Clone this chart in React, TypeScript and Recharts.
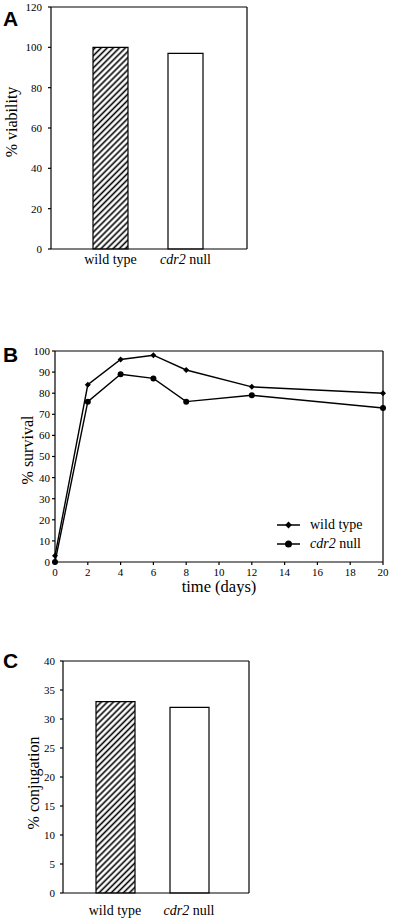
import React from "react";
import { BarChart, Bar, Cell, LineChart, Line, XAxis, YAxis, Legend, Label } from "recharts";

// panel A / C: two genotypes
const genotypes = ["wild type", "cdr2 null"];
const viability = [100, 97];
const conjugation = [33, 32];
const viabilityTicks = [0, 20, 40, 60, 80, 100, 120];
const conjugationTicks = [0, 5, 10, 15, 20, 25, 30, 35, 40];

// panel B: survival over time
const days = [0, 2, 4, 6, 8, 12, 20];
const wildTypeSurvival = [3, 84, 96, 98, 91, 83, 80];
const cdr2Survival = [0, 76, 89, 87, 76, 79, 73];
const survivalTicks = [0, 10, 20, 30, 40, 50, 60, 70, 80, 90, 100];
const dayTicks = [0, 2, 4, 6, 8, 10, 12, 14, 16, 18, 20];
const seriesOrder = ["wt", "cdr2"];

const SERIF = "'Liberation Serif', 'Times New Roman', serif";
const SANS = "'Liberation Sans', Arial, sans-serif";
const ink = "#000";

const viabilityData = genotypes.map((name, i) => ({ name, value: viability[i] }));
const conjugationData = genotypes.map((name, i) => ({ name, value: conjugation[i] }));
const survivalData = days.map((day, i) => ({ day, wt: wildTypeSurvival[i], cdr2: cdr2Survival[i] }));

const tickStyle = { fontSize: 11, fill: ink, fontFamily: SERIF };
const axisStroke = { stroke: ink, strokeWidth: 1.2 };

function GenotypeText({ name }: { name: string }) {
  if (name.startsWith("cdr2")) {
    return (
      <>
        <tspan fontStyle="italic">cdr2</tspan>
        <tspan>{name.slice(4)}</tspan>
      </>
    );
  }
  return <>{name}</>;
}

function CategoryTick(props: any) {
  const { x, y, payload, baseline = 12 } = props;
  return (
    <text x={x} y={y + baseline} textAnchor="middle" fontFamily={SERIF} fontSize={14} fill={ink}>
      <GenotypeText name={String(payload.value)} />
    </text>
  );
}

function YTitle(props: any) {
  const { viewBox, value, bx, shift = 0 } = props;
  const cy = viewBox.y + viewBox.height / 2 + shift;
  return (
    <text
      x={bx}
      y={cy}
      transform={`rotate(-90, ${bx}, ${cy})`}
      textAnchor="middle"
      fontFamily={SERIF}
      fontSize={16}
      fill={ink}
    >
      {value}
    </text>
  );
}

function XTitle(props: any) {
  const { viewBox, value, drop = 28 } = props;
  return (
    <text
      x={viewBox.x + viewBox.width / 2}
      y={viewBox.y + drop}
      textAnchor="middle"
      fontFamily={SERIF}
      fontSize={16.5}
      fill={ink}
    >
      {value}
    </text>
  );
}

function DiamondDot(props: any) {
  const { cx, cy, r = 2.8 } = props;
  if (cx == null || cy == null) return null;
  return <polygon points={`${cx},${cy - r} ${cx + r},${cy} ${cx},${cy + r} ${cx - r},${cy}`} fill={ink} />;
}

function RoundDot(props: any) {
  const { cx, cy, r = 2.4 } = props;
  if (cx == null || cy == null) return null;
  return <circle cx={cx} cy={cy} r={r} fill={ink} />;
}

function SurvivalLegend({ payload }: any) {
  const items = [...(payload || [])].sort(
    (a: any, b: any) => seriesOrder.indexOf(a.dataKey) - seriesOrder.indexOf(b.dataKey)
  );
  return (
    <div style={{ fontFamily: SERIF, fontSize: 14, color: ink }}>
      {items.map((item: any) => (
        <div key={item.value} style={{ display: "flex", alignItems: "center", height: 18.5 }}>
          <svg width={35} height={18}>
            <line x1={2} y1={9} x2={25} y2={9} stroke={ink} strokeWidth={1.5} />
            {item.dataKey === "wt" ? <DiamondDot cx={13.5} cy={9} r={3.4} /> : <RoundDot cx={13.5} cy={9} r={3.5} />}
          </svg>
          <svg width={80} height={18}>
            <text x={0} y={13} fontFamily={SERIF} fontSize={14} fill={ink}>
              <GenotypeText name={String(item.value)} />
            </text>
          </svg>
        </div>
      ))}
    </div>
  );
}

function HatchDefs({ id }: { id: string }) {
  return (
    <defs>
      <pattern id={id} patternUnits="userSpaceOnUse" width={4.3} height={4.3} patternTransform="rotate(45)">
        <rect width={4.3} height={4.3} fill="#fff" />
        <line x1={2.15} y1={0} x2={2.15} y2={4.3} stroke={ink} strokeWidth={1.6} />
      </pattern>
    </defs>
  );
}

const letterStyle: React.CSSProperties = {
  position: "absolute",
  left: 3,
  fontFamily: SANS,
  fontWeight: 700,
  fontSize: 21,
  lineHeight: 1,
  color: ink,
};

export default function App() {
  return (
    <div style={{ position: "absolute", left: 0, top: 0, width: 400, height: 923, background: "#fff" }}>
      <div style={{ ...letterStyle, top: 7.5 }}>A</div>
      <div style={{ ...letterStyle, top: 344 }}>B</div>
      <div style={{ ...letterStyle, top: 650 }}>C</div>

      {/* A: viability */}
      <div style={{ position: "absolute", left: 0, top: 0 }}>
        <BarChart width={250} height={275} data={viabilityData} margin={{ top: 6, right: 2, left: 0, bottom: 6 }}>
          <HatchDefs id="hatchA" />
          <XAxis
            dataKey="name"
            height={20}
            interval={0}
            tickLine={false}
            tickSize={0}
            axisLine={axisStroke}
            padding={{ left: 22, right: 24 }}
            tick={<CategoryTick baseline={13} />}
          />
          <XAxis xAxisId="top" orientation="top" dataKey="name" height={1} tick={false} tickLine={false} axisLine={axisStroke} />
          <YAxis
            width={51}
            domain={[0, 120]}
            ticks={viabilityTicks}
            interval={0}
            tickSize={3}
            tickMargin={6}
            tick={tickStyle}
            tickLine={axisStroke}
            axisLine={axisStroke}
          >
            <Label value="% viability" content={<YTitle bx={17} shift={-6} />} />
          </YAxis>
          <YAxis yAxisId="right" orientation="right" width={1} domain={[0, 120]} tick={false} tickLine={false} axisLine={axisStroke} />
          <Bar dataKey="value" barSize={35} stroke={ink} strokeWidth={1.2} isAnimationActive={false}>
            {viabilityData.map((d, i) => (
              <Cell key={d.name} fill={i === 0 ? "url(#hatchA)" : "#fff"} />
            ))}
          </Bar>
        </BarChart>
      </div>

      {/* B: survival */}
      <div style={{ position: "absolute", left: 0, top: 330 }}>
        <LineChart width={400} height={270} data={survivalData} margin={{ top: 20, right: 16, left: 0, bottom: 8 }}>
          <XAxis
            dataKey="day"
            type="number"
            domain={[0, 20]}
            ticks={dayTicks}
            interval={0}
            height={30}
            tickSize={3}
            tickMargin={3}
            tick={tickStyle}
            tickLine={axisStroke}
            axisLine={axisStroke}
          >
            <Label value="time (days)" content={<XTitle drop={30} />} />
          </XAxis>
          <XAxis xAxisId="top" orientation="top" type="number" domain={[0, 20]} height={1} tick={false} tickLine={false} axisLine={axisStroke} />
          <YAxis
            width={55}
            domain={[0, 100]}
            ticks={survivalTicks}
            interval={0}
            tickSize={3}
            tickMargin={2}
            tick={tickStyle}
            tickLine={axisStroke}
            axisLine={axisStroke}
          >
            <Label value="% survival" content={<YTitle bx={33} shift={-6.5} />} />
          </YAxis>
          <YAxis yAxisId="right" orientation="right" width={1} domain={[0, 100]} tick={false} tickLine={false} axisLine={axisStroke} />
          <Legend
            layout="vertical"
            align="center"
            verticalAlign="middle"
            content={<SurvivalLegend />}
            wrapperStyle={{ left: 275, top: 186, width: 125 }}
          />
          <Line
            dataKey="wt"
            name="wild type"
            type="linear"
            stroke={ink}
            strokeWidth={1.4}
            dot={<DiamondDot />}
            activeDot={false}
            isAnimationActive={false}
          />
          <Line
            dataKey="cdr2"
            name="cdr2 null"
            type="linear"
            stroke={ink}
            strokeWidth={1.4}
            dot={<RoundDot />}
            activeDot={false}
            isAnimationActive={false}
          />
        </LineChart>
      </div>

      {/* C: conjugation */}
      <div style={{ position: "absolute", left: 0, top: 630 }}>
        <BarChart width={260} height={293} data={conjugationData} margin={{ top: 30, right: 10, left: 0, bottom: 10 }}>
          <HatchDefs id="hatchC" />
          <XAxis
            dataKey="name"
            height={20}
            interval={0}
            tickLine={false}
            tickSize={0}
            axisLine={axisStroke}
            padding={{ left: 15, right: 23 }}
            tick={<CategoryTick baseline={20} />}
          />
          <XAxis xAxisId="top" orientation="top" dataKey="name" height={1} tick={false} tickLine={false} axisLine={axisStroke} />
          <YAxis
            width={63}
            domain={[0, 40]}
            ticks={conjugationTicks}
            interval={0}
            tickSize={3}
            tickMargin={5}
            tick={tickStyle}
            tickLine={axisStroke}
            axisLine={axisStroke}
          >
            <Label value="% conjugation" content={<YTitle bx={38.5} shift={6} />} />
          </YAxis>
          <YAxis yAxisId="right" orientation="right" width={1} domain={[0, 40]} tick={false} tickLine={false} axisLine={axisStroke} />
          <Bar dataKey="value" barSize={39} stroke={ink} strokeWidth={1.2} isAnimationActive={false}>
            {conjugationData.map((d, i) => (
              <Cell key={d.name} fill={i === 0 ? "url(#hatchC)" : "#fff"} />
            ))}
          </Bar>
        </BarChart>
      </div>
    </div>
  );
}
